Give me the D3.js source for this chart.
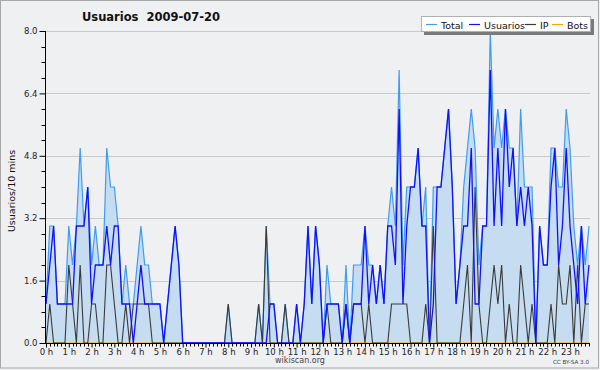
<!DOCTYPE html>
<html><head><meta charset="utf-8">
<script src="https://cdn.jsdelivr.net/npm/d3@7"></script>
<style>
html,body{margin:0;padding:0;background:#eff0f2;}
svg{display:block;}
text{font-family:"DejaVu Sans",sans-serif;}
</style></head>
<body>
<script>
const title = "Usuarios  2009-07-20";
const yLabel = "Usuarios/10 mins";
const hourLabels = ["0 h","1 h","2 h","3 h","4 h","5 h","6 h","7 h","8 h","9 h","10 h","11 h","12 h","13 h","14 h","15 h","16 h","17 h","18 h","19 h","20 h","21 h","22 h","23 h"];
const yTicks = [0, 1.6, 3.2, 4.8, 6.4, 8.0];
const seriesNames = ["Total","Usuarios","IP","Bots"];

const total = [1,3,3,1,1,1,3,2,3,5,3,4,2,3,2,2,5,4,4,3,1,2,1,1,2,3,2,2,1,1,1,0,1,2,3,2,
0,0,0,0,0,0,0,0,0,0,0,0,1,0,0,0,0,0,0,0,1,0,3,1,1,0,0,1,0,0,1,0,1,3,1,3,
2,0,2,1,1,1,0,2,0,2,2,2,3,2,2,1,2,1,3,4,3,7,2,4,4,4,5,3,4,0,4,4,4,5,6,4,
1,2,4,5,6,5,2,3,3,8,5,6,5,6,5,5,3,6,4,4,4,0,3,2,2,5,5,4,4,6,5,3,2,3,2,3];
const usuarios = [1,2,3,1,1,1,1,1,3,3,3,4,1,2,2,2,3,2,3,3,1,1,1,0,1,2,1,1,1,1,1,0,1,2,3,2,
0,0,0,0,0,0,0,0,0,0,0,0,0,0,0,0,0,0,0,0,0,0,0,1,1,0,0,0,0,0,1,0,1,3,1,3,
2,0,1,1,1,1,0,1,0,1,1,1,3,1,2,1,2,1,3,3,2,6,1,3,4,4,5,3,3,0,1,4,4,5,6,4,
1,2,3,3,5,1,1,3,3,7,3,5,3,6,4,5,3,4,3,4,3,0,3,2,2,4,5,2,3,5,3,2,1,3,1,2];
const ip = [0,1,0,0,0,0,2,1,0,2,0,0,1,1,0,0,2,2,1,0,0,1,0,1,1,1,1,1,0,0,0,0,0,0,0,0,
0,0,0,0,0,0,0,0,0,0,0,0,1,0,0,0,0,0,0,0,1,0,3,0,0,0,0,1,0,0,0,0,0,0,0,0,
0,0,1,0,0,0,0,1,0,1,1,1,0,1,0,0,0,0,0,1,1,1,1,1,0,0,0,0,1,0,3,0,0,0,0,0,
0,0,1,2,0,4,1,0,0,1,2,1,2,0,1,0,0,2,1,0,1,0,0,0,0,1,0,2,1,1,2,0,2,0,1,1];
const bots = [0,0,0,0,0,0,0,0,0,0,0,0,0,0,0,0,0,0,0,0,0,0,0,0,0,0,0,0,0,0,0,0,0,0,0,0,
0,0,0,0,0,0,0,0,0,0,0,0,0,0,0,0,0,0,0,0,0,0,0,0,0,0,0,0,0,0,0,0,0,0,0,0,
0,0,0,0,0,0,0,0,0,0,0,0,0,0,0,0,0,0,0,0,0,0,0,0,0,0,0,0,0,0,0,0,0,0,0,0,
0,0,0,0,0,0,0,0,0,0,0,0,0,0,0,0,0,0,0,0,0,0,0,0,0,0,0,0,0,0,0,0,0,0,0,0];

const W = 600, H = 370;
const svg = d3.select("body").append("svg").attr("width", W).attr("height", H);

// frame
svg.append("rect").attr("x",0.5).attr("y",0.5).attr("width",598).attr("height",367.5)
  .attr("fill","#eff0f2").attr("stroke","#a8a8a8");

const x = d3.scaleLinear().domain([0, total.length - 1]).range([46, 589]);
const y = d3.scaleLinear().domain([0, 8]).range([343, 31]);

// grid
svg.append("g").selectAll("line").data(yTicks.filter(d => d > 0)).join("line")
  .attr("x1", 46).attr("x2", 590)
  .attr("y1", d => Math.round(y(d)) + 0.5).attr("y2", d => Math.round(y(d)) + 0.5)
  .attr("stroke", "#c9c9c9").attr("stroke-width", 1);

const idx = d3.range(total.length);
const area = d3.area().x(i => x(i)).y0(y(0)).y1(i => y(total[i]));
svg.append("path").datum(idx).attr("d", area).attr("fill", "#c6dcf0");

const mkLine = arr => d3.line().x(i => x(i)).y(i => y(arr[i]));
svg.append("path").datum(idx).attr("d", mkLine(bots)).attr("fill","none").attr("stroke","#ffa500").attr("stroke-width",1.1);
svg.append("path").datum(idx).attr("d", mkLine(total)).attr("fill","none").attr("stroke","#3e9cf2").attr("stroke-width",1.2);
svg.append("path").datum(idx).attr("d", mkLine(ip)).attr("fill","none").attr("stroke","#3a3a3a").attr("stroke-width",1.1);
svg.append("path").datum(idx).attr("d", mkLine(usuarios)).attr("fill","none").attr("stroke","#1010ff").attr("stroke-width",1.3);

// y axis
const yAxis = d3.axisLeft(y).tickValues(yTicks).tickFormat(d3.format(".1f")).tickSize(6).tickPadding(2);
const gy = svg.append("g").attr("transform","translate(45.5,0)").call(yAxis);
gy.select(".domain").remove();
gy.append("line").attr("x1",0).attr("x2",0).attr("y1",y(8)).attr("y2",y(0)).attr("stroke","#000");
gy.selectAll("text").attr("font-size", 8.5).attr("fill","#222").attr("font-family","DejaVu Sans");
const yMinor = d3.range(0, 8.01, 0.4).filter(v => !yTicks.some(t => Math.abs(t - v) < 1e-6));
gy.selectAll(".minor").data(yMinor).join("line").attr("class","minor")
  .attr("x1",-4).attr("x2",0).attr("y1",d=>Math.round(y(d))+0.5).attr("y2",d=>Math.round(y(d))+0.5).attr("stroke","#000");

// x axis
const hourIdx = d3.range(0, 24).map(h => h * 6);
const xAxis = d3.axisBottom(x).tickValues(hourIdx).tickFormat((d, k) => hourLabels[k]).tickSize(4).tickPadding(1);
const gx = svg.append("g").attr("transform","translate(0,343.5)").call(xAxis);
gx.select(".domain").remove();
gx.append("line").attr("x1",45).attr("x2",590).attr("y1",0).attr("y2",0).attr("stroke","#000");
gx.selectAll("text").attr("font-size", 8.5).attr("fill","#222").attr("font-family","DejaVu Sans");
gx.selectAll(".minor").data(idx.filter(i => i % 6 !== 0)).join("line").attr("class","minor")
  .attr("x1",i=>Math.round(x(i))+0.5).attr("x2",i=>Math.round(x(i))+0.5).attr("y1",0).attr("y2",3).attr("stroke","#000");

// title
svg.append("text").attr("x",151).attr("y",21).attr("text-anchor","middle").style("white-space","pre")
  .attr("font-size",11.5).attr("font-weight","bold").attr("fill","#111").text(title);

// y label
svg.append("text").attr("transform","translate(14.5,191) rotate(-90)").attr("text-anchor","middle")
  .attr("font-family","DejaVu Sans Mono").attr("font-size",9.5).attr("fill","#111").text(yLabel);

// footer
svg.append("text").attr("x",300).attr("y",363).attr("text-anchor","middle").attr("font-size",8).attr("fill","#444").text("wikiscan.org");
svg.append("text").attr("x",589).attr("y",364).attr("text-anchor","end").attr("font-size",5.6).attr("fill","#444").text("CC BY-SA 3.0");

// legend
const lg = svg.append("g");
lg.append("rect").attr("x",424).attr("y",19).attr("width",170).attr("height",16).attr("fill","#7a7a7a");
lg.append("rect").attr("x",421.5).attr("y",16.5).attr("width",169).attr("height",15).attr("fill","#fff").attr("stroke","#b0b0b0");
const legendColors = ["#3e9cf2","#1010ff","#3a3a3a","#ffa500"];
const legendX = [426, 469, 525, 552];
seriesNames.forEach((n, k) => {
  lg.append("line").attr("x1",legendX[k]).attr("x2",legendX[k]+11).attr("y1",24.5).attr("y2",24.5)
    .attr("stroke",legendColors[k]).attr("stroke-width",1.2);
  lg.append("text").attr("x",legendX[k]+15).attr("y",28.5).attr("font-size",9.5).attr("fill","#111").text(n);
});
</script>
</body></html>
